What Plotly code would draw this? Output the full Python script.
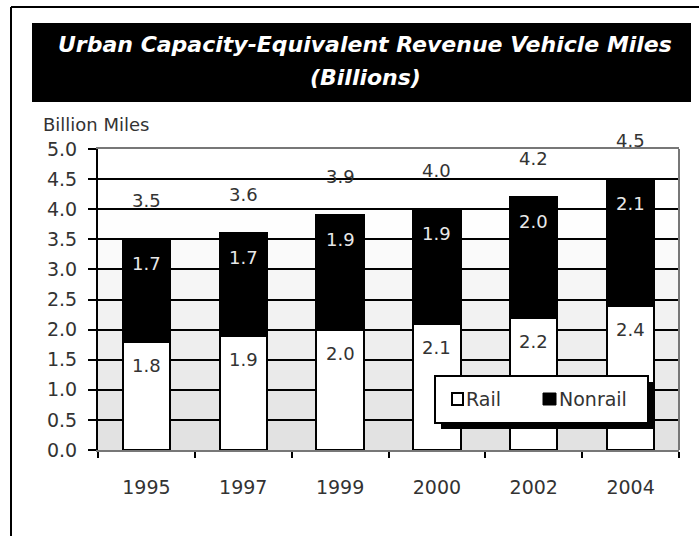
import plotly.graph_objects as go

# Data
years = ["1995", "1997", "1999", "2000", "2002", "2004"]
rail = [1.8, 1.9, 2.0, 2.1, 2.2, 2.4]
nonrail = [1.7, 1.7, 1.9, 1.9, 2.0, 2.1]
totals = [3.5, 3.6, 3.9, 4.0, 4.2, 4.5]
y_ticks = [0.0, 0.5, 1.0, 1.5, 2.0, 2.5, 3.0, 3.5, 4.0, 4.5, 5.0]
series_names = ["Rail", "Nonrail"]
title_lines = ["Urban Capacity-Equivalent Revenue Vehicle Miles", "(Billions)"]

W, H = 699, 536
L, R, T, B = 98, 20, 149, 86
PW, PH = W - L - R, H - T - B
FONT = "DejaVu Sans"
TXT = "#333333"
FS = 18


def px(x):
    return (x - L) / PW


def py(y):
    return (H - B - y) / PH


fig = go.Figure()
fig.add_trace(go.Bar(
    x=years, y=rail, name=series_names[0],
    marker=dict(color="white", line=dict(color="black", width=2)),
))
fig.add_trace(go.Bar(
    x=years, y=nonrail, name=series_names[1],
    marker=dict(color="black", line=dict(color="black", width=2)),
))

annotations = []
for i, yr in enumerate(years):
    # category index positions so the labels sit on their bars
    annotations.append(dict(x=i, y=rail[i], text=f"{rail[i]:.1f}", showarrow=False,
                            yanchor="middle", yshift=-24, font=dict(size=FS, color=TXT, family=FONT)))
    annotations.append(dict(x=i, y=rail[i] + nonrail[i], text=f"{nonrail[i]:.1f}", showarrow=False,
                            yanchor="middle", yshift=-24, font=dict(size=FS, color="#e8e8e8", family=FONT)))
    annotations.append(dict(x=i, y=totals[i], text=f"{totals[i]:.1f}", showarrow=False,
                            yanchor="middle", yshift=39, font=dict(size=FS, color=TXT, family=FONT)))

annotations.append(dict(xref="paper", yref="paper", x=px(365), y=py(45),
                        text=f"<b><i>{title_lines[0]}</i></b>",
                        showarrow=False, xanchor="center", yanchor="middle",
                        font=dict(size=22, color="white", family=FONT)))
annotations.append(dict(xref="paper", yref="paper", x=px(365), y=py(78),
                        text=f"<b><i>{title_lines[1]}</i></b>",
                        showarrow=False, xanchor="center", yanchor="middle",
                        font=dict(size=22, color="white", family=FONT)))
annotations.append(dict(xref="paper", yref="paper", x=px(41), y=py(124),
                        text="Billion Miles", showarrow=False, xanchor="left", yanchor="middle",
                        font=dict(size=18, color=TXT, family=FONT)))

shapes = []
# shaded horizontal bands behind the grid, darker toward the baseline
n = len(y_ticks) - 1
for k in range(n):
    f = k / (n - 1)
    g = int(round(226 + (255 - 226) * min(1.0, f * 1.25)))
    shapes.append(dict(type="rect", xref="x domain", yref="y", x0=0, x1=1,
                       y0=y_ticks[k], y1=y_ticks[k + 1], fillcolor=f"rgb({g},{g},{g})",
                       line=dict(width=0), layer="below"))
# right frame line
shapes.append(dict(type="line", xref="x domain", yref="y domain", x0=1, x1=1, y0=0, y1=1,
                   line=dict(color="#777777", width=2)))
# title box
shapes.append(dict(type="rect", xref="paper", yref="paper", x0=px(32), x1=px(691), y0=py(102), y1=py(23),
                   fillcolor="black", line=dict(width=0)))
# outer frame
shapes.append(dict(type="line", xref="paper", yref="paper", x0=px(11), x1=px(11), y0=py(7), y1=py(540),
                   line=dict(color="black", width=2)))
shapes.append(dict(type="line", xref="paper", yref="paper", x0=px(11), x1=px(705), y0=py(7), y1=py(7),
                   line=dict(color="black", width=2)))

# legend box with drop shadow
shapes.append(dict(type="rect", xref="paper", yref="paper", x0=px(441), x1=px(654), y0=py(429), y1=py(382),
                   fillcolor="black", line=dict(width=0), layer="above"))
shapes.append(dict(type="rect", xref="paper", yref="paper", x0=px(435), x1=px(648), y0=py(423), y1=py(376),
                   fillcolor="white", line=dict(color="black", width=2), layer="above"))
shapes.append(dict(type="rect", xref="paper", yref="paper", x0=px(452), x1=px(463), y0=py(405), y1=py(393),
                   fillcolor="white", line=dict(color="black", width=2), layer="above"))
shapes.append(dict(type="rect", xref="paper", yref="paper", x0=px(543), x1=px(556), y0=py(405), y1=py(393),
                   fillcolor="black", line=dict(color="black", width=1), layer="above"))
annotations.append(dict(xref="paper", yref="paper", x=px(464), y=py(399), text=series_names[0],
                        showarrow=False, xanchor="left", yanchor="middle",
                        font=dict(size=19, color=TXT, family=FONT)))
annotations.append(dict(xref="paper", yref="paper", x=px(557), y=py(399), text=series_names[1],
                        showarrow=False, xanchor="left", yanchor="middle",
                        font=dict(size=19, color=TXT, family=FONT)))

fig.update_layout(
    width=W, height=H, barmode="stack", bargap=0.51,
    margin=dict(l=L, r=R, t=T, b=B, autoexpand=False),
    paper_bgcolor="white", plot_bgcolor="white",
    font=dict(family=FONT, size=FS, color=TXT),
    showlegend=False,
    annotations=annotations,
    shapes=shapes,
    xaxis=dict(type="category", range=[-0.5, len(years) - 0.5],
               showgrid=False, showline=True, linecolor="#777777", linewidth=2, mirror=True,
               ticks="outside", tickson="boundaries", ticklen=6, tickwidth=2, tickcolor="black",
               ticklabelstandoff=19, tickfont=dict(size=19, color=TXT)),
    yaxis=dict(range=[0, 5], tickvals=y_ticks, ticktext=[f"{v:.1f}" for v in y_ticks],
               showgrid=True, gridcolor="black", gridwidth=2, zeroline=False,
               showline=True, linecolor="black", linewidth=2,
               ticks="outside", ticklen=8, tickwidth=2, tickcolor="black",
               ticklabelstandoff=7, tickfont=dict(size=19, color=TXT)),
)

fig.write_html("out.html")
